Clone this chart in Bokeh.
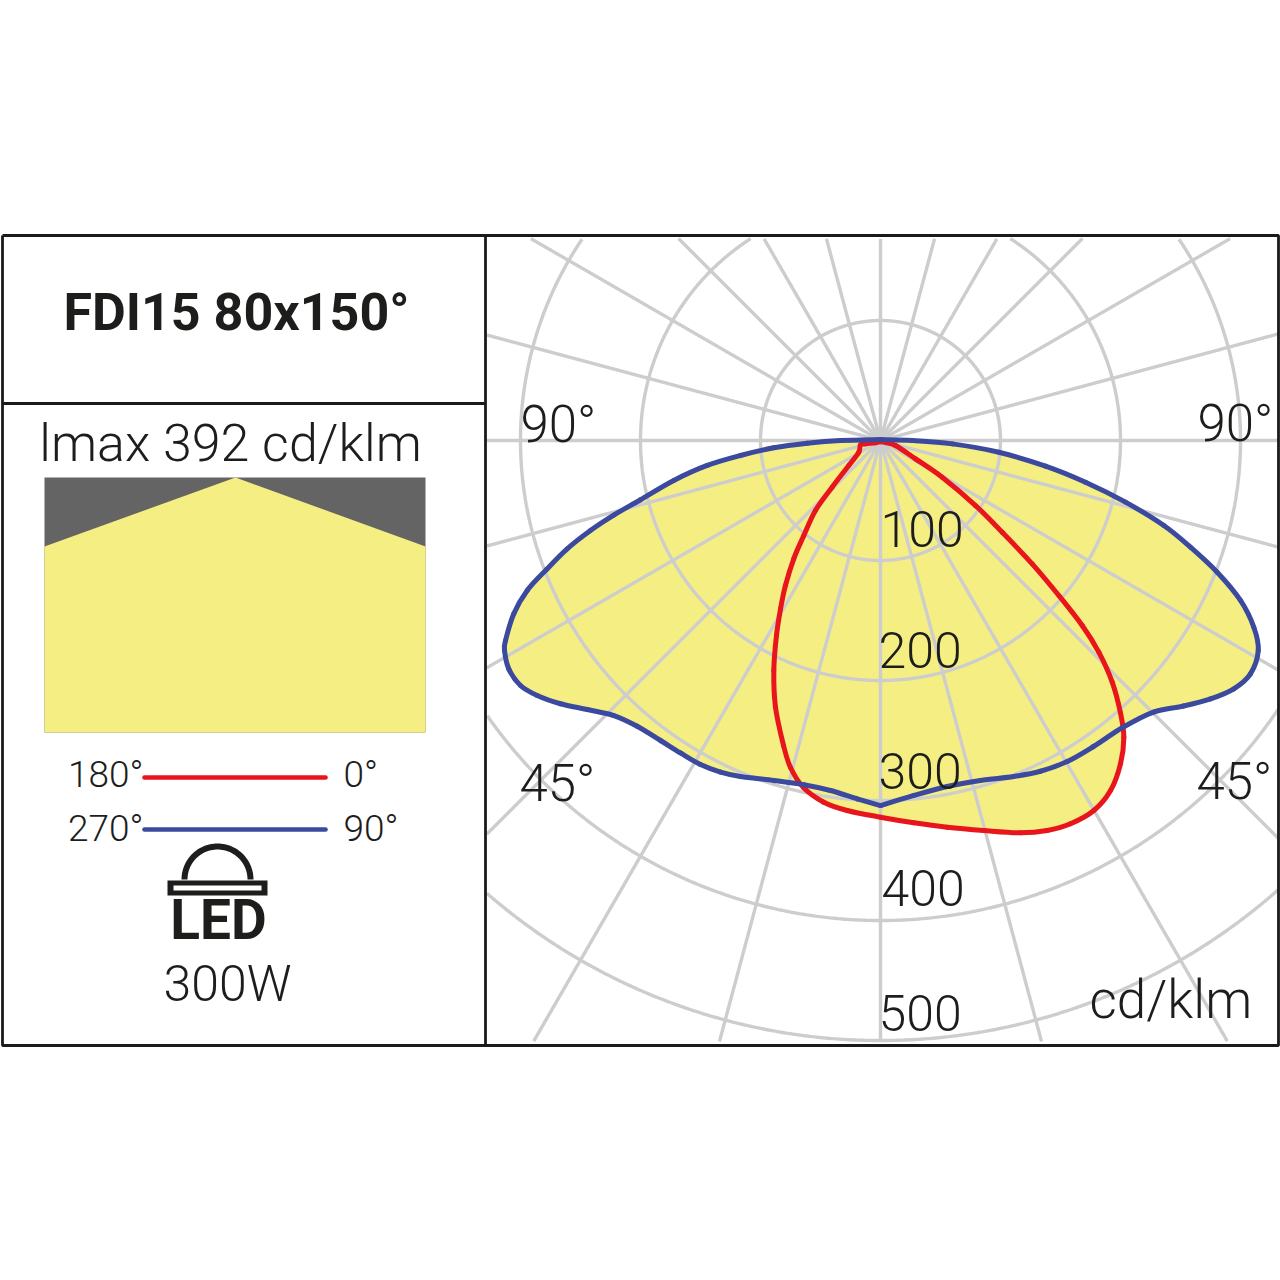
import numpy as np
from bokeh.plotting import figure
from bokeh.core.properties import value
from bokeh.embed import file_html
from bokeh.resources import INLINE

# Photometric curves, in cd/klm: lateral and downward components
c90_left_x = [0,-33.3,-61.1,-88.9,-116.7,-144.4,-172.3,-200,-222.3,-241.7,-261.1,-278.3,-294.4,-305.6,-312.5,-313.3,-309.8,-300,-286.1,-266.7,-244.4,-222.3,-202.8,-183.3,-166.7,-150,-133.3,-116.7,-88.9,-63.9,-41.7,-19.4,0]
c90_left_y = [-0.8,0,2.3,6.1,12.5,20.8,33.3,49.4,62.2,75,90.3,107.5,125,144.4,166.7,175,190.3,204.2,212.5,219.4,224.2,229.2,238.1,250,260.4,270,276.3,280,283.3,286.9,291.7,298.6,304.2]
c90_right_x = [0,27.8,55.6,83.3,111.1,133.3,155.6,177.5,201.7,227.5,252.5,275,294.4,308.3,314.8,311.1,300,280.6,258.3,236.1,204.2,170.8,137.5,98.6,59.8,26.4,0]
c90_right_y = [304.2,295.8,288.3,283.3,280,275.6,267.5,255,239.2,226.3,221.3,215.3,206.9,194.4,175,155.6,133.3,109.8,88.9,70.8,51.4,34.8,21.4,9.8,2.8,0,-0.8]
c0_x = [0,-4.2,-12.5,-16.7,-18.1,-26.4,-40.3,-54.2,-63.9,-72.3,-79.2,-83.3,-86.7,-88.9,-87.5,-80.8,-75,-64.2,-47.3,-27.8,0,
        27.8,55.6,86.1,116.7,138.9,158.3,177.8,191.7,200,202.8,200,193.1,181.9,168.1,148.6,126.4,101.4,79.2,51.4,29.2,12.5,4.2,0]
c0_y = [1,1.9,2.8,3.6,9.8,20.8,38.9,58.3,79.2,98.6,120.8,140.3,162.5,191.7,222.3,254.2,272.5,289.2,301.4,308.3,313.9,
        318.6,322.3,325,326.9,325,319.4,308.3,291.7,269.4,247.3,227.1,201.4,176.4,154.2,129.2,102.8,76.4,54.2,30.6,15.3,4.2,1.7,1]

# Radial grid and labels
radii = [100,200,300,400,500]
spoke_angles = list(range(0,360,15))
radial_labels = ["100","200","300","400","500"]

FRAME = (486,238,1278,1041)   # polar panel clip in page px
YELLOW = "#F5EE82"; GRID = "#CDCDCD"; BLUE = "#3B4A9E"; RED = "#E8161C"; INK = "#1d1d1b"
FONT = value("Roboto Light")
SCALE = 1.2; CX = 880; CY = 440

def X(px): return (np.asarray(px,dtype=float)-CX)/SCALE
def Y(py): return (CY-np.asarray(py,dtype=float))/SCALE
def polar(a,r):
    t = np.radians(np.asarray(a,dtype=float)); r = np.asarray(r,dtype=float)
    return r*np.sin(t), -r*np.cos(t)

p = figure(width=1280, height=1280, x_range=(X(0),X(1280)), y_range=(Y(1280),Y(0)),
           toolbar_location=None, output_backend="svg", min_border=0)
p.axis.visible = False; p.grid.visible = False; p.outline_line_color = None

def txt(px,py,s,size,align="left",style="normal",color=INK,font=FONT):
    # the page draws alphabetic text about 0.38 em below its anchor
    p.text([float(X(px))],[float(Y(py-0.38*size))],text=[s],text_font=font,text_font_size=f"{size}px",
           text_font_style=style,text_align=align,text_baseline="alphabetic",text_color=color)

def smooth(x,y,color):
    # Bezier segments through the read points (Catmull-Rom handles)
    x = np.asarray(x); y = np.asarray(y)
    xp = np.r_[x[0],x,x[-1]]; yp = np.r_[y[0],y,y[-1]]
    c0x = x[:-1]+(xp[2:-1]-xp[:-3])/6; c0y = y[:-1]+(yp[2:-1]-yp[:-3])/6
    c1x = x[1:]-(xp[3:]-xp[1:-2])/6;  c1y = y[1:]-(yp[3:]-yp[1:-2])/6
    p.bezier(x[:-1],y[:-1],x[1:],y[1:],c0x,c0y,c1x,c1y,line_color=color,line_width=5,line_cap="round")

# fills
blx,bly = np.array(c90_left_x),-np.array(c90_left_y)
brx,bry = np.array(c90_right_x),-np.array(c90_right_y)
rx,ry = np.array(c0_x),-np.array(c0_y)
p.patch(np.r_[blx,brx],np.r_[bly,bry],fill_color=YELLOW,line_color=None)
p.patch(rx,ry,fill_color=YELLOW,line_color=None)

# grid, clipped to the panel
x0,x1,y0,y1 = X(FRAME[0]),X(FRAME[2]),Y(FRAME[3]),Y(FRAME[1])
def masked(x,y):
    bad = (x<x0)|(x>x1)|(y<y0)|(y>y1)
    return np.where(bad,np.nan,x),np.where(bad,np.nan,y)
th = np.linspace(0,360,1441)
for r in radii:
    cx,cy = masked(*polar(th,np.full_like(th,r)))
    p.line(cx,cy,line_color=GRID,line_width=3.4)
rr = np.linspace(0,700,1401)
for a in spoke_angles:
    sx,sy = masked(*polar(np.full_like(rr,a),rr))
    p.line(sx,sy,line_color=GRID,line_width=3.4)

# curves (the blue one has a cusp at nadir)
smooth(rx,ry,RED)
smooth(blx,bly,BLUE)
smooth(brx,bry,BLUE)

# frame
p.line(X([2,1278,1278,2,2]),Y([235,235,1045,1045,235]),line_color="#1a1a1a",line_width=2.8)
p.line(X([485,485]),Y([235,1045]),line_color="#1a1a1a",line_width=2.8)
p.line(X([2,485]),Y([403,403]),line_color="#1a1a1a",line_width=2.8)

# beam swatch
p.quad(left=X(44),right=X(425),top=Y(477),bottom=Y(732),fill_color="#646464",line_color=None)
p.patch(X([44,235,425,425,44]),Y([546,477,546,732,732]),fill_color=YELLOW,line_color=None)

# legend
p.line(X([144,325]),Y([777,777]),line_color=RED,line_width=4.6,line_cap="round")
p.line(X([144,325]),Y([829,829]),line_color=BLUE,line_width=4.6,line_cap="round")

# LED icon
ang = np.linspace(-90,90,61)
dx,dy = polar(ang,np.full_like(ang,33/SCALE))
p.line(dx+X(217),-dy+Y(879),line_color=INK,line_width=6)
p.quad(left=X(167),right=X(267),top=Y(880),bottom=Y(895),fill_color=INK,line_color=None)
p.quad(left=X(173),right=X(261),top=Y(885),bottom=Y(890),fill_color="white",line_color=None)

# texts
BOLD = value("Roboto")
txt(236,332,"FDI15 80x150°",52,"center","bold",font=BOLD)
txt(230,463,"lmax 392 cd/klm",52,"center")
txt(143,788,"180°",37,"right"); txt(143,842,"270°",37,"right")
txt(343,788,"0°",37); txt(343,842,"90°",37)
txt(218,940,"LED",55,"center","bold",font=BOLD)
txt(227,1002,"300W",50,"center")
for (lx,ly,s) in [(520,443,"90°"),(1197,442,"90°"),(519,802,"45°"),(1196,800,"45°")]:
    txt(lx,ly,s,51)
for (lx,ly,s) in zip([880,878,878,881,878],[547,668,789,906,1031],radial_labels):
    txt(lx,ly,s,50)
txt(1089,1020,"cd/klm",53)

open("out.html","w").write(file_html(p,INLINE))
